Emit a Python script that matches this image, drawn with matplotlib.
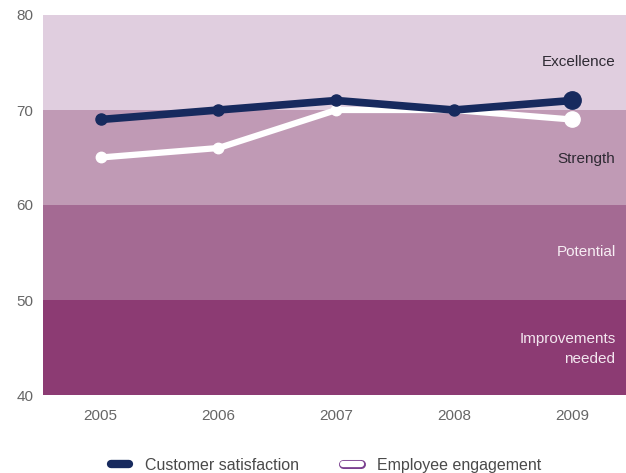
import numpy as np
import matplotlib.pyplot as plt
from matplotlib.lines import Line2D
from matplotlib.legend_handler import HandlerTuple

plt.rcParams['font.family'] = ['Liberation Sans', 'DejaVu Sans']

# Données
years = ["2005", "2006", "2007", "2008", "2009"]
customer = [69, 70, 71, 70, 71]
employee = [65, 66, 70, 70, 69]

band_edges = [40, 50, 60, 70, 80]
band_colors = ["#8c3b73", "#a46a93", "#c09ab5", "#e0cedf"]
band_labels = ["Improvements\nneeded", "Potential", "Strength", "Excellence"]
band_text_colors = ["#f3e6ef", "#f7eef4", "#2e2a33", "#2e2a33"]

navy = "#172a5e"
purple = "#7a3f8f"

fig = plt.figure(figsize=(6.26, 4.73), dpi=100)
ax = fig.add_axes([43 / 626, 1 - 395 / 473, 583 / 626, 380 / 473])

x = np.arange(len(years))

for i in range(len(band_colors)):
    ax.axhspan(band_edges[i], band_edges[i + 1], color=band_colors[i], lw=0, zorder=0)

# Étiquettes des zones
label_y = [45.3, 55.16, 65.05, 75.16]
for lab, yy, col in zip(band_labels, label_y, band_text_colors):
    ax.text(0.982, yy, lab, transform=ax.get_yaxis_transform(), ha="right",
            va="center_baseline", color=col, fontsize=11, linespacing=1.55)

# Séries
ax.plot(x, employee, color="white", lw=4.5, marker="o", ms=7.5, zorder=3,
        solid_joinstyle="round")
ax.plot(x[-1], employee[-1], "o", color="white", ms=11, zorder=3)
ax.plot(x, customer, color=navy, lw=5.5, marker="o", ms=8, zorder=4,
        solid_joinstyle="round")
ax.plot(x[-1], customer[-1], "o", color=navy, ms=12.5, zorder=4)

ax.set_xlim(-0.49, 4.46)
ax.set_ylim(40, 80)
ax.set_yticks([40, 50, 60, 70, 80])
ax.set_xticks(x)
ax.set_xticklabels(years)
ax.tick_params(length=0, labelsize=11, labelcolor="#666666")
ax.tick_params(axis="y", pad=7)
ax.tick_params(axis="x", pad=10)
for s in ax.spines.values():
    s.set_visible(False)

# Légende
h1 = Line2D([], [], color=navy, lw=6, solid_capstyle="round")
h2a = Line2D([], [], color=purple, lw=6.5, solid_capstyle="round")
h2b = Line2D([], [], color="white", lw=4.5, solid_capstyle="round")
fig.legend([h1, (h2a, h2b)], ["Customer satisfaction", "Employee engagement"],
           handler_map={tuple: HandlerTuple(ndivide=1)},
           loc="center", bbox_to_anchor=(0.521, 1 - 465 / 473), ncol=2, frameon=False,
           fontsize=11.5, labelcolor="#4a4a4a", handlelength=1.1, columnspacing=2.8,
           handletextpad=1.0)

fig.savefig("out.png", dpi=100)
